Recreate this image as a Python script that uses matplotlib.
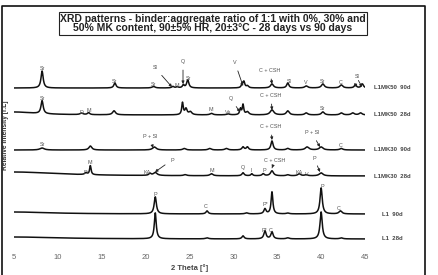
import numpy as np
from matplotlib import pyplot as plt
from matplotlib.lines import Line2D

plt.rcParams['font.family'] = ['Liberation Sans', 'DejaVu Sans']

# sample names and vertical offsets of each pattern (top to bottom)
samples = ["L1MK50  90d", "L1MK50  28d", "L1MK30  90d", "L1MK30  28d", "L1  90d", "L1  28d"]
offsets = [162, 135, 100, 74, 36, 11]

# peaks: 2theta position, height, half width
peaks_mk50_90 = [(8.2, 17, 0.15), (16.5, 5, 0.15), (20.9, 1.5, 0.2), (23.1, 1.5, 0.15), (23.6, 1, 0.15),
                 (24.3, 3, 0.12), (24.8, 8, 0.15), (31.0, 4, 0.1), (31.2, 6, 0.12), (31.6, 2, 0.15),
                 (34.4, 4, 0.2), (36.2, 5, 0.15), (38.3, 2, 0.2), (40.2, 4, 0.2), (42.3, 3, 0.2),
                 (43.9, 3, 0.15), (44.7, 4, 0.15)]
peaks_mk50_28 = [(5.0, 3, 3.0), (8.2, 13, 0.15), (12.7, 1.5, 0.2), (13.5, 2, 0.15), (16.4, 4, 0.2),
                 (24.2, 12, 0.1), (24.6, 6, 0.15), (25.1, 3, 0.2), (27.5, 1.5, 0.2), (29.4, 1, 0.2),
                 (30.8, 6, 0.1), (31.1, 10, 0.1), (31.6, 3, 0.2), (34.4, 5, 0.25), (36.2, 4, 0.2),
                 (38.3, 2, 0.2), (40.2, 3, 0.2), (42.3, 2, 0.2), (43.6, 2, 0.2), (44.5, 2, 0.2)]
peaks_mk30_90 = [(8.2, 2, 0.3), (13.7, 4, 0.2), (21.0, 3, 0.25), (24.4, 1.5, 0.2), (27.3, 1.5, 0.2),
                 (29.2, 1.5, 0.2), (31.1, 3, 0.15), (31.6, 3, 0.15), (34.4, 9, 0.15), (36.2, 1.5, 0.2),
                 (38.4, 3, 0.25), (40.0, 3, 0.25), (42.3, 1.5, 0.2)]
peaks_mk30_28 = [(5.0, 4, 6.0), (13.2, 2, 0.15), (13.7, 9, 0.1), (20.5, 2, 0.15), (21.1, 3, 0.25),
                 (24.5, 1, 0.2), (27.5, 2, 0.2), (31.1, 3, 0.15), (32.1, 2, 0.12), (33.4, 2, 0.15),
                 (34.4, 5, 0.2), (36.2, 1, 0.2), (37.5, 2, 0.2), (38.3, 1, 0.2), (40.0, 3, 0.25)]
peaks_l1_90 = [(5.0, 2, 5.0), (21.1, 17, 0.15), (27.0, 3, 0.15), (31.5, 1, 0.2), (33.6, 5, 0.15),
               (34.4, 22, 0.12), (36.2, 0.8, 0.2), (40.0, 26, 0.15), (42.2, 3, 0.2)]
peaks_l1_28 = [(5.0, 2, 6.0), (21.1, 26, 0.13), (27.0, 1, 0.2), (31.1, 3, 0.15), (33.6, 8, 0.15),
               (34.4, 7, 0.15), (36.2, 1, 0.2), (40.0, 27, 0.15), (42.3, 1, 0.2)]
all_peaks = [peaks_mk50_90, peaks_mk50_28, peaks_mk30_90, peaks_mk30_28, peaks_l1_90, peaks_l1_28]

# phase labels: text, 2theta, height above baseline, arrow target (2theta, height) or None
labels_mk50_90 = [("Sr", 8.2, 19, None), ("Sr", 16.5, 6, None), ("Sr", 20.84, 3, None),
                  ("Sl", 21.1, 20, (23.0, 1)), ("M", 23.6, 2, None), ("Q", 24.26, 26, (24.26, 4)),
                  ("Sr", 24.83, 9, None), ("V", 30.2, 25, (31.1, 2)), ("C + CSH", 34.17, 17, (34.4, 4)),
                  ("Sl", 36.34, 6, None), ("V", 38.28, 5, None), ("Sr", 40.1, 6, None),
                  ("C", 42.26, 5, None), ("Sl", 44.09, 11, (43.86, 1)), ("", 44.09, 10, (44.66, 1))]
labels_mk50_28 = [("Sr", 8.19, 16, None), ("D", 12.64, 2, None), ("M", 13.55, 4, None),
                  ("M", 27.45, 5, None), ("Ve", 29.39, 2, None), ("Q", 29.73, 16, (30.75, 3)),
                  ("C + CSH", 34.29, 19, (34.4, 5)), ("Sr", 40.1, 6, None)]
labels_mk30_90 = [("Sr", 8.19, 5, None), ("P + Sl", 20.5, 13, (20.84, 2)),
                  ("C + CSH", 34.29, 23, (34.4, 10)), ("P + Sl", 38.96, 17, (39.87, 3)),
                  ("C", 42.26, 4, None)]
labels_mk30_28 = [("D", 13.09, 3, None), ("M", 13.66, 13, None), ("KA", 20.16, 3, None),
                  ("P", 23.0, 16, (21.07, 4)), ("M", 27.56, 5, None), ("Q", 31.1, 8, None),
                  ("I", 32.0, 6, None), ("P", 33.5, 6, None), ("C + CSH", 34.74, 16, (34.4, 8)),
                  ("KA", 37.48, 3, None), ("V", 38.39, 2, None), ("P", 39.19, 18, (39.87, 4))]
labels_l1_90 = [("P", 21.07, 20, None), ("C", 26.88, 8, None), ("P*", 33.6, 9, None),
                ("P", 40.1, 27, None), ("C", 42.04, 6, None)]
labels_l1_28 = [("P*", 33.49, 9, None), ("C", 34.29, 8, None)]
all_labels = [labels_mk50_90, labels_mk50_28, labels_mk30_90, labels_mk30_28, labels_l1_90, labels_l1_28]

x_ticks = [5, 10, 15, 20, 25, 30, 35, 40, 45]

fig = plt.figure(figsize=(4.38, 2.75), dpi=100)
ax = fig.add_axes([14 / 438, 25 / 275, 351 / 438, 210 / 275])

two_theta = np.linspace(5, 45, 2000)
for name, off, peaks, labs in zip(samples, offsets, all_peaks, all_labels):
    y = np.zeros_like(two_theta)
    for c, h, w in peaks:
        y += h / (1 + ((two_theta - c) / w) ** 2)
    ax.plot(two_theta, y + off, color="#111111", lw=1.1)
    ax.text(48.1, off, name, fontsize=4.3, color="#444444", ha="center", va="center",
            fontweight="bold", clip_on=False)
    for txt, tx, ty, target in labs:
        if target is None:
            ax.text(tx, off + ty, txt, fontsize=3.9, color="#555555", ha="center", va="center")
        else:
            ax.annotate(txt, xy=(target[0], off + target[1]), xytext=(tx, off + ty),
                        fontsize=3.9, color="#555555", ha="center", va="center",
                        arrowprops=dict(arrowstyle="-|>", color="#222222", lw=0.6,
                                        mutation_scale=4, shrinkA=2, shrinkB=0))

ax.set_xlim(5, 45)
ax.set_ylim(0, 210)
ax.set_xticks(x_ticks)
ax.set_yticks([])
ax.tick_params(axis="x", length=0, pad=3, labelsize=5.5, labelcolor="#666666")
for s in ax.spines.values():
    s.set_visible(False)
ax.set_xlabel("2 Theta [°]", fontsize=5.5, color="#444444", fontweight="bold", labelpad=2)

fig.text(6 / 438, 1 - 135 / 275, "Relative Intensity [r.L]", rotation=90, fontsize=4.8,
         color="#333333", fontweight="bold", ha="center", va="center")

# title box
fig.text(213 / 438, 1 - 23.5 / 275,
         "XRD patterns - binder:aggregate ratio of 1:1 with 0%, 30% and\n"
         "50% MK content, 90±5% HR, 20±3°C - 28 days vs 90 days",
         fontsize=7.5, fontweight="bold", color="#222222", ha="center", va="center",
         linespacing=0.95,
         bbox=dict(boxstyle="square,pad=0.15", facecolor="white", edgecolor="#222222", lw=0.8))

# outer frame (open at the bottom)
fig.add_artist(Line2D([2 / 438, 2 / 438, 425 / 438, 425 / 438], [0, 1 - 6 / 275, 1 - 6 / 275, 0],
                      transform=fig.transFigure, color="#111111", lw=1.2))

plt.savefig("out.png", dpi=100)
